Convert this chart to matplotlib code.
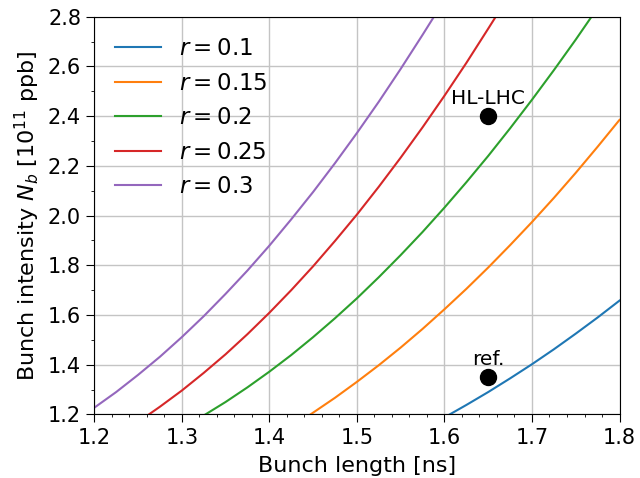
import matplotlib
matplotlib.use("Agg")
import matplotlib.pyplot as plt
from matplotlib.ticker import MultipleLocator

# Curves: bunch length [ns] vs bunch intensity [1e11 ppb]
r_values = [0.1, 0.15, 0.2, 0.25, 0.3]

x_r010 = [1.606, 1.625, 1.65, 1.675, 1.70, 1.725, 1.75, 1.775, 1.80]
y_r010 = [1.200, 1.238, 1.290, 1.345, 1.402, 1.462, 1.525, 1.590, 1.658]

x_r015 = [1.447, 1.475, 1.50, 1.525, 1.55, 1.575, 1.60, 1.625, 1.65,
          1.675, 1.70, 1.725, 1.75, 1.775, 1.80]
y_r015 = [1.200, 1.267, 1.331, 1.398, 1.469, 1.544, 1.623, 1.705, 1.791,
          1.881, 1.974, 2.071, 2.172, 2.277, 2.385]

x_r020 = [1.327, 1.35, 1.375, 1.40, 1.425, 1.45, 1.475, 1.50, 1.525, 1.55,
          1.575, 1.60, 1.625, 1.65, 1.675, 1.70, 1.725, 1.75, 1.768]
y_r020 = [1.200, 1.250, 1.309, 1.372, 1.439, 1.511, 1.587, 1.667, 1.752, 1.841,
          1.934, 2.032, 2.134, 2.240, 2.351, 2.466, 2.585, 2.708, 2.800]

x_r025 = [1.2624, 1.275, 1.30, 1.325, 1.35, 1.375, 1.40, 1.425, 1.45, 1.475,
          1.50, 1.525, 1.55, 1.575, 1.60, 1.625, 1.65, 1.6586]
y_r025 = [1.200, 1.231, 1.296, 1.367, 1.442, 1.523, 1.609, 1.700, 1.796, 1.898,
          2.004, 2.116, 2.233, 2.355, 2.482, 2.614, 2.752, 2.800]

x_r030 = [1.20, 1.225, 1.25, 1.275, 1.30, 1.325, 1.35, 1.375, 1.40, 1.425,
          1.45, 1.475, 1.50, 1.525, 1.55, 1.575, 1.588]
y_r030 = [1.227, 1.290, 1.359, 1.432, 1.511, 1.595, 1.685, 1.779, 1.879, 1.985,
          2.095, 2.211, 2.332, 2.458, 2.590, 2.727, 2.800]

point_names = ["HL-LHC", "ref."]
point_x = [1.65, 1.65]
point_y = [2.40, 1.35]

series = [(x_r010, y_r010), (x_r015, y_r015), (x_r020, y_r020),
          (x_r025, y_r025), (x_r030, y_r030)]
colors = ["#1f77b4", "#ff7f0e", "#2ca02c", "#d62728", "#9467bd"]

fs = 15
fig = plt.figure(figsize=(6.4, 4.78), dpi=100)
ax = fig.add_axes([0.1473, 0.133, 0.8207, 0.832])

for (xs, ys), r, c in zip(series, r_values, colors):
    ax.plot(xs, ys, color=c, lw=1.5, label=rf"$r={r}$")

ax.plot(point_x, point_y, "o", color="black", markersize=11.5, zorder=5)
for name, px, py in zip(point_names, point_x, point_y):
    ax.annotate(name, (px, py), xytext=(0, 9), textcoords="offset points",
                ha="center", va="baseline", fontsize=14.5)

ax.set_xlim(1.2, 1.8)
ax.set_ylim(1.2, 2.8)
ax.xaxis.set_major_locator(MultipleLocator(0.1))
ax.xaxis.set_minor_locator(MultipleLocator(0.02))
ax.yaxis.set_major_locator(MultipleLocator(0.2))
ax.yaxis.set_minor_locator(MultipleLocator(0.1))
ax.tick_params(labelsize=fs)
ax.tick_params(which="major", length=6)
ax.tick_params(which="minor", length=2.5)
ax.grid(True, which="major", color="#c4c4c4", lw=1.0)
ax.set_axisbelow(True)

ax.set_xlabel("Bunch length [ns]", fontsize=16, labelpad=6)
ax.set_ylabel(r"Bunch intensity $N_b$ [$10^{11}$ ppb]", fontsize=16)

ax.legend(loc="upper left", fontsize=16.5, frameon=False, labelspacing=0.5,
          borderaxespad=0.5)

fig.savefig("out.png", dpi=100)
